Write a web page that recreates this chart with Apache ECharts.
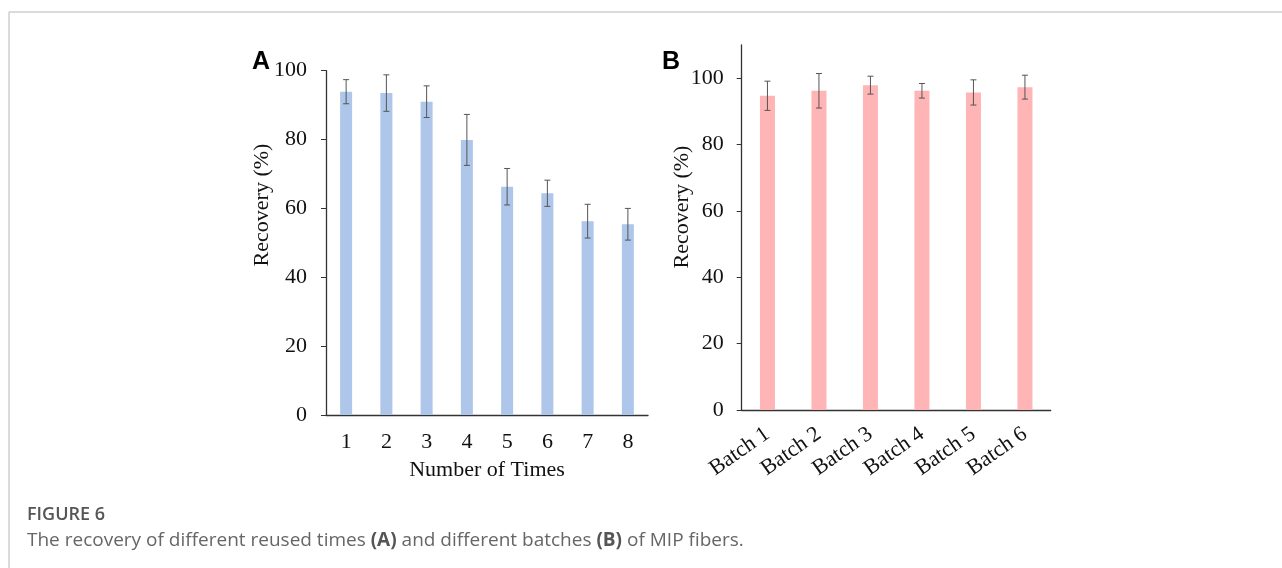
<!DOCTYPE html>
<html>
<head>
<meta charset="utf-8">
<script src="https://cdn.jsdelivr.net/npm/echarts@6/dist/echarts.min.js"></script>
<style>
html, body { margin: 0; padding: 0; background: #fff; }
#chart { width: 1282px; height: 568px; }
</style>
</head>
<body>
<div id="chart"></div>
<script>
// panel A: recovery by number of reuse times
var timeCats = ['1', '2', '3', '4', '5', '6', '7', '8'];
var timeVals = [93.9, 93.5, 91.0, 79.9, 66.3, 64.4, 56.3, 55.4];
var timeErr = [3.5, 5.3, 4.6, 7.4, 5.3, 3.8, 4.9, 4.6];

// panel B: recovery by batch
var batchCats = ['Batch 1', 'Batch 2', 'Batch 3', 'Batch 4', 'Batch 5', 'Batch 6'];
var batchVals = [94.7, 96.2, 97.9, 96.2, 95.7, 97.3];
var batchErr = [4.4, 5.2, 2.7, 2.2, 3.8, 3.6];

var yTicks = [0, 20, 40, 60, 80, 100];

var serif = 'Liberation Serif';
var axisColor = '#333';

function errData(vals, errs) {
    return vals.map(function (v, i) { return [i, v - errs[i], v + errs[i]]; });
}

function errRender(params, api) {
    var lo = api.coord([api.value(0), api.value(1)]);
    var hi = api.coord([api.value(0), api.value(2)]);
    var cap = 3;
    var st = { stroke: '#555', lineWidth: 1 };
    return {
        type: 'group',
        children: [
            { type: 'line', shape: { x1: hi[0], y1: hi[1], x2: lo[0], y2: lo[1] }, style: st },
            { type: 'line', shape: { x1: hi[0] - cap, y1: hi[1], x2: hi[0] + cap, y2: hi[1] }, style: st },
            { type: 'line', shape: { x1: lo[0] - cap, y1: lo[1], x2: lo[0] + cap, y2: lo[1] }, style: st }
        ]
    };
}

var chart = echarts.init(document.getElementById('chart'));

var option = {
    animation: false,
    textStyle: { fontFamily: serif },
    grid: [
        { left: 326, top: 70.7, width: 322, height: 344.3 },
        { left: 741.7, top: 45, width: 309, height: 365 }
    ],
    xAxis: [
        {
            gridIndex: 0, type: 'category', data: timeCats,
            axisLine: { lineStyle: { color: axisColor, width: 1.3 } },
            axisTick: { length: 5, lineStyle: { color: axisColor } },
            axisLabel: { color: '#111', fontSize: 22, fontFamily: serif, margin: 16 },
            name: 'Number of Times', nameLocation: 'middle', nameGap: 44,
            nameTextStyle: { color: '#111', fontSize: 22, fontFamily: serif }
        },
        {
            gridIndex: 1, type: 'category', data: batchCats,
            axisLine: { lineStyle: { color: axisColor, width: 1.3 } },
            axisTick: { length: 5, lineStyle: { color: axisColor } },
            axisLabel: { color: '#111', fontSize: 22, fontFamily: serif, rotate: 35, margin: 22, interval: 0 }
        }
    ],
    yAxis: [
        {
            gridIndex: 0, type: 'value', min: 0, max: 100, interval: 20,
            splitLine: { show: false },
            axisLine: { show: true, lineStyle: { color: axisColor, width: 1.3 } },
            axisTick: { show: true, length: 5, lineStyle: { color: axisColor } },
            axisLabel: { color: '#111', fontSize: 22, fontFamily: serif, margin: 19 }
        },
        {
            gridIndex: 1, type: 'value', min: 0, max: 110, interval: 20,
            splitLine: { show: false },
            axisLine: { show: true, lineStyle: { color: axisColor, width: 1.3 } },
            axisTick: { show: true, length: 5, lineStyle: { color: axisColor }, customValues: yTicks },
            axisLabel: { color: '#111', fontSize: 22, fontFamily: serif, margin: 18, customValues: yTicks }
        }
    ],
    series: [
        {
            type: 'bar', xAxisIndex: 0, yAxisIndex: 0, data: timeVals,
            barWidth: 12, itemStyle: { color: '#adc6e9' }
        },
        {
            type: 'custom', xAxisIndex: 0, yAxisIndex: 0,
            data: errData(timeVals, timeErr), renderItem: errRender, z: 5
        },
        {
            type: 'bar', xAxisIndex: 1, yAxisIndex: 1, data: batchVals,
            barWidth: 15, itemStyle: { color: '#ffb4b6' }
        },
        {
            type: 'custom', xAxisIndex: 1, yAxisIndex: 1,
            data: errData(batchVals, batchErr), renderItem: errRender, z: 5
        }
    ],
    graphic: [
        // frame lines of the figure box
        { type: 'line', shape: { x1: 9, y1: 12, x2: 1282, y2: 12 }, style: { stroke: '#cfcfcf', lineWidth: 1.5 } },
        { type: 'line', shape: { x1: 9, y1: 12, x2: 9, y2: 568 }, style: { stroke: '#cfcfcf', lineWidth: 1.5 } },
        // y axis names
        { type: 'text', x: 262, y: 205, rotation: Math.PI / 2,
          style: { text: 'Recovery (%)', font: '22px "Liberation Serif"', fill: '#111', align: 'center', verticalAlign: 'middle' } },
        { type: 'text', x: 682, y: 207, rotation: Math.PI / 2,
          style: { text: 'Recovery (%)', font: '22px "Liberation Serif"', fill: '#111', align: 'center', verticalAlign: 'middle' } },
        // panel letters
        { type: 'text', x: 252, y: 50,
          style: { text: 'A', font: 'bold 25px "Liberation Sans"', fill: '#000' } },
        { type: 'text', x: 662, y: 50,
          style: { text: 'B', font: 'bold 25px "Liberation Sans"', fill: '#000' } },
        // caption
        { type: 'text', x: 27, y: 515,
          style: { text: 'FIGURE 6', font: '600 18px "Open Sans"', fill: '#555', verticalAlign: 'middle' } },
        { type: 'text', x: 27, y: 541,
          style: {
              text: '{n|The recovery of different reused times }{b|(A)}{n| and different batches }{b|(B)}{n| of MIP fibers.}',
              verticalAlign: 'middle',
              rich: {
                  n: { font: '19px "Open Sans"', fill: '#666' },
                  b: { font: 'bold 19px "Open Sans"', fill: '#555' }
              }
          } }
    ]
};

chart.setOption(option);
</script>
</body>
</html>
